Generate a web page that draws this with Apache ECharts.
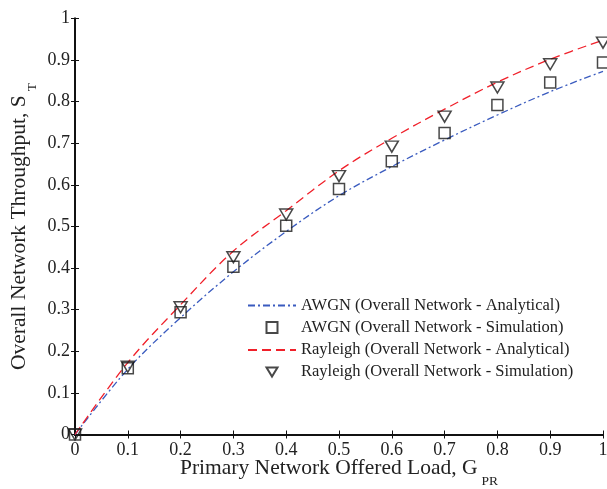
<!DOCTYPE html>
<html>
<head>
<meta charset="utf-8">
<script src="https://cdn.jsdelivr.net/npm/echarts@6/dist/echarts.min.js"></script>
<style>
html,body{margin:0;padding:0;background:#fff;}
#c{width:607px;height:489px;}
</style>
</head>
<body>
<div id="c"></div>
<script>
var loads = [0, 0.1, 0.2, 0.3, 0.4, 0.5, 0.6, 0.7, 0.8, 0.9, 1.0];
var awgnAnalytical = [0, 0.157, 0.281, 0.391, 0.488, 0.574, 0.644, 0.708, 0.768, 0.824, 0.873];
var awgnSimulation = [0, 0.159, 0.294, 0.403, 0.502, 0.590, 0.657, 0.725, 0.792, 0.846, 0.894];
var rayAnalytical = [0, 0.173, 0.312, 0.441, 0.538, 0.634, 0.712, 0.782, 0.847, 0.902, 0.948];
var raySimulation = [0, 0.163, 0.306, 0.426, 0.529, 0.621, 0.692, 0.764, 0.834, 0.890, 0.942];
var seriesNames = [
  'AWGN (Overall Network - Analytical)',
  'AWGN (Overall Network - Simulation)',
  'Rayleigh (Overall Network - Analytical)',
  'Rayleigh (Overall Network - Simulation)'
];

function pairs(ys){ return loads.map(function(x,i){ return [x, ys[i]]; }); }

var FONT = 'Liberation Serif';
var TXT = '#222';
var TRI_DOWN = 'path://M0,0L12,0L6,10Z';
var chart = echarts.init(document.getElementById('c'), null, {renderer:'canvas'});

var axisCommon = {
  type:'value', min:0, max:1, interval:0.1,
  axisLine:{show:true, lineStyle:{color:'#111', width:2}},
  axisTick:{show:true, inside:true, length:4, lineStyle:{color:'#111', width:1}},
  splitLine:{show:false}
};

function fmt(v){ return (v===0||v===1) ? String(v) : v.toFixed(1); }

var titleRich = {
  a:{fontFamily:FONT, fontSize:21.5, color:TXT, verticalAlign:'top', lineHeight:22},
  s:{fontFamily:FONT, fontSize:13.5, color:TXT, verticalAlign:'bottom', lineHeight:31, padding:[0,0,0,4]}
};

var legendText = {fontFamily:FONT, fontSize:16.5, color:TXT};

var option = {
  animation:false,
  backgroundColor:'#fff',
  grid:{left:75, right:4, top:18.5, bottom:54.5, containLabel:false, outerBoundsMode:'none'},
  legend:[
    {
      orient:'vertical', left:247, top:297, padding:0,
      itemWidth:48, itemHeight:14, itemGap:27.5,
      textStyle:legendText,
      data:[seriesNames[0], seriesNames[2]]
    },
    {
      orient:'vertical', left:265.5, top:319, padding:0,
      itemWidth:11, itemHeight:11, itemGap:27.5,
      textStyle:Object.assign({padding:[0,0,0,18.5]}, legendText),
      data:[seriesNames[1], seriesNames[3]]
    }
  ],
  xAxis:[
    Object.assign({}, axisCommon, {
      position:'bottom',
      axisLabel:{fontFamily:FONT, fontSize:18, color:TXT, margin:7, formatter:fmt},
      name:'{a|Primary Network Offered Load, G}{s|PR}',
      nameLocation:'middle', nameGap:23, nameMoveOverlap:false,
      nameTextStyle:{rich:titleRich}
    }),
    Object.assign({}, axisCommon, {position:'top', axisLabel:{show:false}})
  ],
  yAxis:[
    Object.assign({}, axisCommon, {
      position:'left',
      axisLabel:{fontFamily:FONT, fontSize:18, color:TXT, margin:5, formatter:fmt},
      name:'{a|Overall Network Throughput, S}{s|T}',
      nameLocation:'middle', nameGap:36, nameMoveOverlap:false,
      nameTextStyle:{rich:titleRich}
    }),
    Object.assign({}, axisCommon, {position:'right', axisLabel:{show:false}})
  ],
  series:[
    {
      name:seriesNames[0], type:'line', data:pairs(awgnAnalytical), smooth:0.35,
      symbol:'circle', showSymbol:false,
      lineStyle:{color:'#3a5bbf', width:1.3, type:[7,3,2,3]},
      itemStyle:{color:'rgba(0,0,0,0)', borderWidth:0}, z:2
    },
    {
      name:seriesNames[1], type:'scatter', data:pairs(awgnSimulation),
      symbol:'rect', symbolSize:11,
      itemStyle:{color:'rgba(255,255,255,0)', borderColor:'#1a1a1a', borderWidth:1.5}, z:3
    },
    {
      name:seriesNames[2], type:'line', data:pairs(rayAnalytical), smooth:0.35,
      symbol:'circle', showSymbol:false,
      lineStyle:{color:'#f0202a', width:1.3, type:[9,5]},
      itemStyle:{color:'rgba(0,0,0,0)', borderWidth:0}, z:2
    },
    {
      name:seriesNames[3], type:'scatter', data:pairs(raySimulation),
      symbol:TRI_DOWN, symbolSize:[13,11],
      itemStyle:{color:'rgba(255,255,255,0)', borderColor:'#1a1a1a', borderWidth:1.5}, z:3
    }
  ]
};
chart.setOption(option);
</script>
</body>
</html>
